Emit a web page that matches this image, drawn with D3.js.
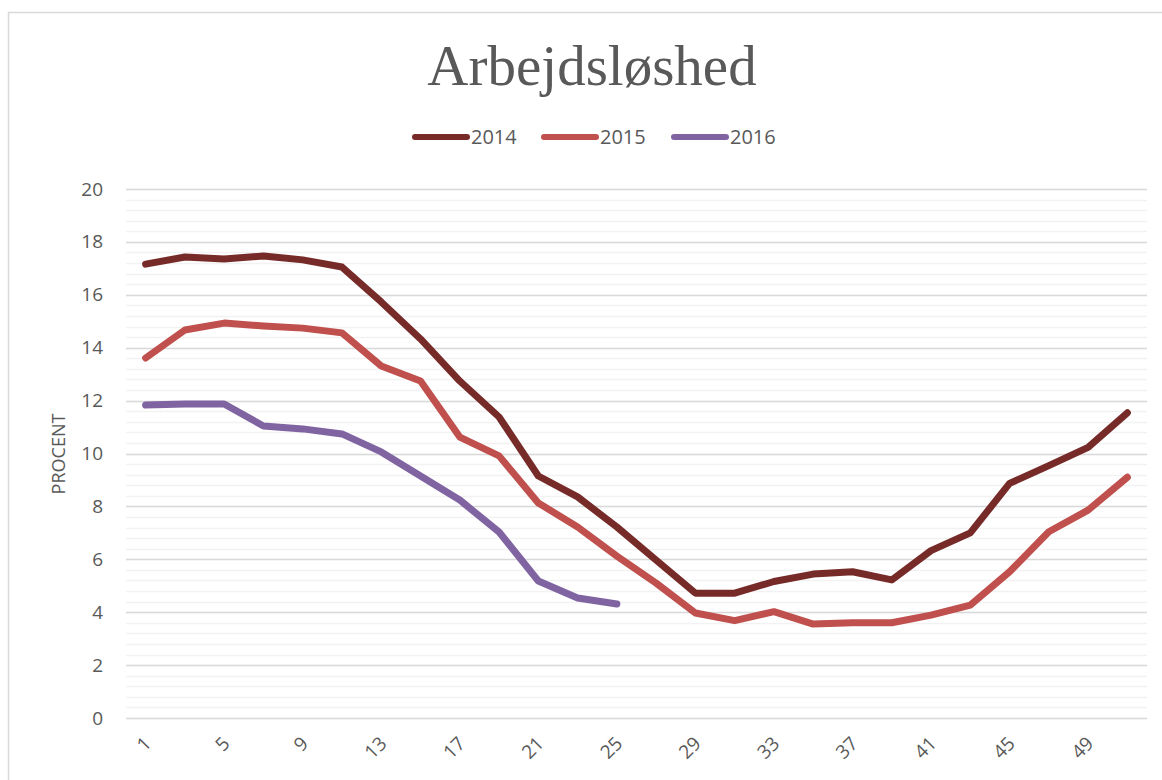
<!DOCTYPE html>
<html>
<head>
<meta charset="utf-8">
<script src="https://cdn.jsdelivr.net/npm/d3@7"></script>
<style>
  body { margin: 0; background: #fff; }
  svg { display: block; }
</style>
</head>
<body>
<div id="chart"></div>
<script>
// Ugentlig arbejdsløshed, procent (hver anden uge)
const weeks = d3.range(1, 52, 2);
const tickWeeks = [1, 5, 9, 13, 17, 21, 25, 29, 33, 37, 41, 45, 49];

const values2014 = [17.16, 17.43, 17.35, 17.47, 17.32, 17.05, 15.73, 14.33, 12.74, 11.38, 9.15, 8.36, 7.22,
    5.97, 4.72, 4.72, 5.16, 5.44, 5.53, 5.22, 6.33, 7.0, 8.87, 9.54, 10.23, 11.54];
const values2015 = [13.61, 14.67, 14.93, 14.82, 14.74, 14.56, 13.31, 12.74, 10.62, 9.91, 8.13, 7.22, 6.12,
    5.10, 3.97, 3.68, 4.02, 3.55, 3.60, 3.60, 3.89, 4.27, 5.53, 7.04, 7.86, 9.10];
const values2016 = [11.83, 11.87, 11.87, 11.04, 10.93, 10.74, 10.06, 9.15, 8.24, 7.03, 5.18, 4.54, 4.31];

const seriesNames = ['2014', '2015', '2016'];
const seriesColors = ['#772b29', '#c0504d', '#8064a2'];
const seriesValues = [values2014, values2015, values2016];

const yTicks = d3.range(0, 21, 2);
const yMinorTicks = d3.range(0, 20.01, 0.4);

function renderChart() {
    const width = 1162, height = 780;
    const svg = d3.select('#chart').append('svg').attr('width', width).attr('height', height);

    // chart frame
    svg.append('rect')
        .attr('x', 8.5).attr('y', 12.5)
        .attr('width', 1170).attr('height', 800)
        .attr('fill', '#fff').attr('stroke', '#d9d9d9').attr('stroke-width', 1.5);

    const x = d3.scaleBand().domain(weeks).range([126, 1147]);
    const y = d3.scaleLinear().domain([0, 20]).range([718, 189]);
    const cx = w => x(w) + x.bandwidth() / 2;

    // gridlines
    svg.append('g').selectAll('line').data(yMinorTicks).enter().append('line')
        .attr('x1', 126).attr('x2', 1147)
        .attr('y1', d => Math.round(y(d)) + 0.5).attr('y2', d => Math.round(y(d)) + 0.5)
        .attr('stroke', '#f2f2f2').attr('stroke-width', 1.5);
    svg.append('g').selectAll('line').data(yTicks).enter().append('line')
        .attr('x1', 126).attr('x2', 1147)
        .attr('y1', d => Math.round(y(d)) + 0.5).attr('y2', d => Math.round(y(d)) + 0.5)
        .attr('stroke', '#d9d9d9').attr('stroke-width', 1.5);

    // y axis labels
    const yAxis = svg.append('g')
        .attr('transform', 'translate(114,0)')
        .call(d3.axisLeft(y).tickValues(yTicks).tickSize(0).tickPadding(11));
    yAxis.select('.domain').remove();
    yAxis.selectAll('text')
        .style('font-family', '"Open Sans", sans-serif')
        .style('font-size', '19px')
        .style('fill', '#595959');

    // x axis labels (rotated)
    svg.append('g').selectAll('text').data(tickWeeks).enter().append('text')
        .attr('transform', d => `translate(${cx(d) + 2},${740}) rotate(-45)`)
        .attr('text-anchor', 'end')
        .attr('dy', '0.35em')
        .style('font-family', '"Open Sans", sans-serif')
        .style('font-size', '19px')
        .style('fill', '#595959')
        .text(d => d);

    // y axis title
    svg.append('text')
        .attr('transform', 'translate(65,454) rotate(-90)')
        .attr('text-anchor', 'middle')
        .style('font-family', '"Open Sans", sans-serif')
        .style('font-size', '18px')
        .style('fill', '#595959')
        .text('PROCENT');

    // lines
    const line = d3.line().x((d, i) => cx(weeks[i])).y(d => y(d));
    svg.append('g').selectAll('path').data(seriesValues).enter().append('path')
        .attr('d', line)
        .attr('fill', 'none')
        .attr('stroke', (d, i) => seriesColors[i])
        .attr('stroke-width', 7)
        .attr('stroke-linecap', 'round')
        .attr('stroke-linejoin', 'round');

    // title
    svg.append('text')
        .attr('x', 592).attr('y', 85)
        .attr('text-anchor', 'middle')
        .style('font-family', '"Liberation Serif", serif')
        .style('font-size', '57px')
        .style('fill', '#595959')
        .text('Arbejdsløshed');

    // legend
    const legendX = [412, 541, 671];
    const legend = svg.append('g').selectAll('g').data(seriesNames).enter().append('g')
        .attr('transform', (d, i) => `translate(${legendX[i]},137)`);
    legend.append('line')
        .attr('x1', 3).attr('x2', 55).attr('y1', 0).attr('y2', 0)
        .attr('stroke', (d, i) => seriesColors[i])
        .attr('stroke-width', 6)
        .attr('stroke-linecap', 'round');
    legend.append('text')
        .attr('x', 59).attr('dy', '0.36em')
        .style('font-family', '"Open Sans", sans-serif')
        .style('font-size', '20px')
        .style('fill', '#595959')
        .text(d => d);
}

renderChart();
</script>
</body>
</html>
